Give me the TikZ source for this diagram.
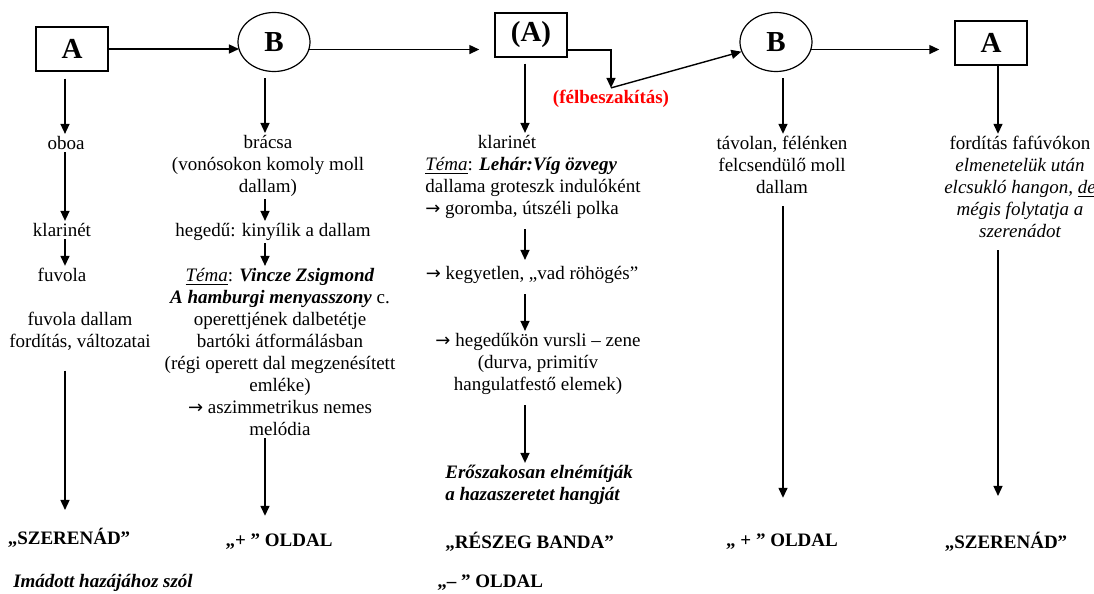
\documentclass[tikz,border=0pt]{standalone}
\usepackage{fontspec}
\setmainfont{Liberation Serif}
\newfontfamily\arrfont{DejaVu Sans}
\newcommand\harr{{\arrfont\fontsize{9}{11}\selectfont →}}
\usetikzlibrary{arrows.meta,positioning,shapes.geometric,calc}

\begin{document}
\begin{tikzpicture}[
  x=0.5pt, y=-0.5pt,
  every node/.style={font=\fontsize{9.5}{11}\selectfont},
  txt/.style={inner sep=1pt, align=center},
  lft/.style={inner sep=1pt, align=left, anchor=west},
  sq/.style={draw, line width=0.7pt, minimum width=36pt, minimum height=22pt, inner sep=0pt, font=\fontsize{14.5}{16}\selectfont\bfseries},
  ov/.style={ellipse, draw, line width=0.6pt, minimum width=36pt, minimum height=29.5pt, inner sep=0pt, font=\fontsize{14.5}{16}\selectfont\bfseries},
  lbl/.style={inner sep=1pt, font=\fontsize{9.5}{11}\selectfont\bfseries},
  bi/.style={font=\fontsize{9.5}{11}\selectfont\bfseries\itshape},
  arr/.style={->, line width=0.7pt},
  >={Triangle[length=5pt,width=4.5pt]}
]
\useasboundingbox (0,0) rectangle (1094,594);

% top row
\node[sq] (a1) at (72,49) {A};
\node[ov] (b1) at (274,42) {B};
\node[sq] (ap) at (531,35) {(A)};
\node[ov] (b2) at (776,42) {B};
\node[sq] (a3) at (991,43) {A};
\node[lbl, text=red] (fb) at (611,99) {(félbeszakítás)};

% columns
\coordinate (c1) at (65,0);
\coordinate (c2) at (265,0);
\coordinate (c3) at (525,0);
\coordinate (c4) at (783,0);
\coordinate (c5) at (998,0);

% column 1
\node[txt] (oboa) at (66,143) {oboa};
\node[txt] (klar1) at (62,230) {klarinét};
\node[txt] (fuv) at (62,275) {fuvola};
\node[txt] (fdal) at (80,331) {fuvola dallam\\fordítás, változatai};
\node[lbl] (szer1) at (69,538) {„SZERENÁD”};
\node[lbl, bi] (imad) at (103,583) {Imádott hazájához szól};

% column 2
\node[txt] (bracs) at (268,166) {brácsa\\(vonósokon komoly moll\\dallam)};
\node[txt] (heg) at (273,232) {hegedű: kinyílik a dallam};
\node[txt] (tema1) at (280,352) {\underline{\textit{Téma}}: \textbf{\textit{Vincze Zsigmond}}\\
  \textbf{\textit{A hamburgi menyasszony}} c.\\operettjének dalbetétje\\bartóki átformálásban\\
  (régi operett dal megzenésített\\emléke)\\\harr{} aszimmetrikus nemes\\melódia};
\node[lbl] (plus1) at (279,542) {„+ ” OLDAL};

% column 3
\node[txt] (klar2) at (507,142) {klarinét};
\node[lft] (tema2) at (423,188) {\underline{\textit{Téma}}: \textbf{\textit{Lehár:Víg özvegy}}\\
  dallama groteszk indulóként\\\harr{} goromba, útszéli polka};
\node[txt] (kegy) at (532,275) {\harr{} kegyetlen, „vad röhögés”};
\node[txt] (hegk) at (538,364) {\harr{} hegedűkön vursli – zene\\(durva, primitív\\hangulatfestő elemek)};
\node[lft, bi] (erosz) at (443,485) {Erőszakosan elnémítják\\a hazaszeretet hangját};
\node[lbl, anchor=west] (reszeg) at (443,542) {„RÉSZEG BANDA”};
\node[lbl, anchor=west] (minus) at (435,583) {„– ” OLDAL};

% column 4
\node[txt] (tavol) at (782,165) {távolan, félénken\\felcsendülő moll\\dallam};
\node[lbl] (plus2) at (782,542) {„ + ” OLDAL};

% column 5
\node[txt] (ford) at (1020,187) {fordítás fafúvókon\\{\itshape elmenetelük után}\\
  {\itshape elcsukló hangon, \underline{de}}\\{\itshape mégis folytatja a}\\{\itshape szerenádot}};
\node[lbl] (szer2) at (1006,542) {„SZERENÁD”};

% top arrows
\draw[arr] (a1.east) -- (a1.east -| b1.194);
\draw[arr, shorten >=7.5pt] (b1.-12) -- (b1.-12 -| ap.west);
\draw[arr] ($(ap.east)+(0,15)$) -| (fb.north);
\draw[arr] (fb.north) -- (b2);
\draw[arr, shorten >=7.5pt] (b2.-12) -- (b2.-12 -| a3.west);

% column 1 arrows
\draw[arr, shorten <=3.5pt] (a1.south -| c1) -- (oboa.north -| c1);
\draw[arr] (oboa.south -| c1) -- (klar1.north -| c1);
\draw[arr] (klar1.south -| c1) -- (fuv.north -| c1);
\draw[arr, shorten <=9pt, shorten >=8pt] (fdal.south -| c1) -- (szer1.north -| c1);

% column 2 arrows
\draw[arr, shorten <=3pt] (b1.south -| c2) -- (bracs.north -| c2);
\draw[arr] (bracs.south -| c2) -- (heg.north -| c2);
\draw[arr] (heg.south -| c2) -- (tema1.north -| c2);
\draw[arr, shorten >=8pt] (tema1.south -| c2) -- (plus1.north -| c2);

% column 3 arrows
\draw[arr, shorten <=3pt] (ap.south -| c3) -- (klar2.north -| c3);
\draw[arr, shorten <=4pt, shorten >=2pt] (tema2.south -| c3) -- (kegy.north -| c3);
\draw[arr, shorten <=4pt] (kegy.south -| c3) -- (hegk.north -| c3);
\draw[arr, shorten <=4pt] (hegk.south -| c3) -- (erosz.north -| c3);

% column 4 arrows
\draw[arr, shorten <=3pt] (b2.south -| c4) -- (tavol.north -| c4);
\draw[arr, shorten <=5pt, shorten >=17pt] (tavol.south -| c4) -- (plus2.north -| c4);

% column 5 arrows
\draw[arr] (a3.south -| c5) -- (ford.north -| c5);
\draw[arr, shorten <=5pt, shorten >=17pt] (ford.south -| c5) -- (szer2.north -| c5);
\end{tikzpicture}
\end{document}
